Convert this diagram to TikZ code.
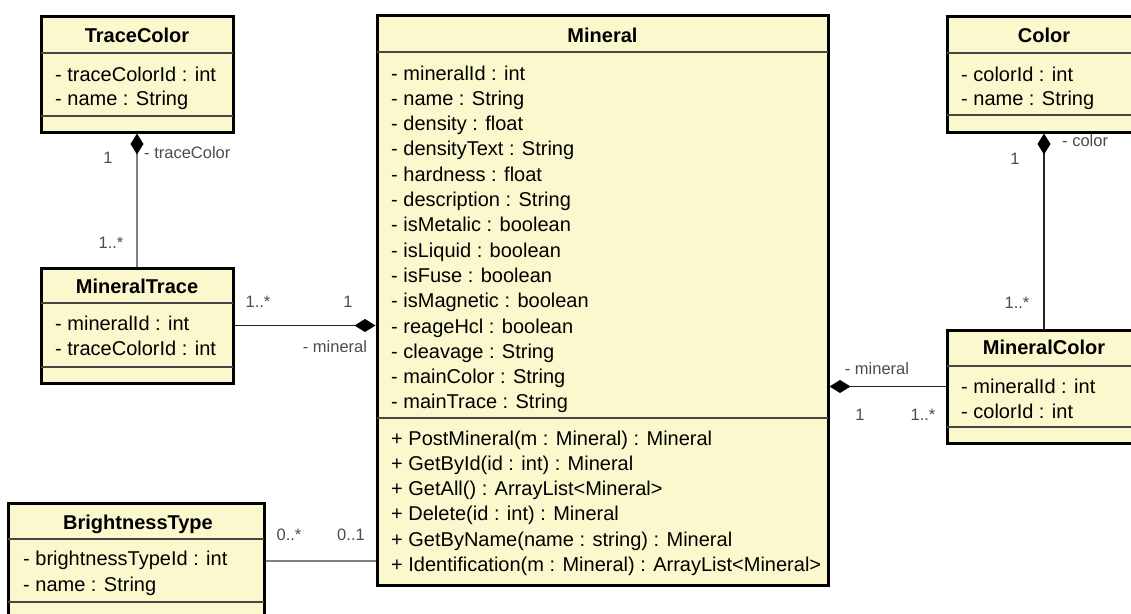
\documentclass[tikz,border=0pt]{standalone}
\usepackage{fontspec}
\setmainfont{Liberation Sans}
\usetikzlibrary{arrows.meta}

\definecolor{classfill}{RGB}{251,248,206}
\definecolor{sepgray}{RGB}{70,70,70}

\tikzset{
  classbox/.style={draw=black, line width=3pt, fill=classfill, inner sep=0pt},
  classtitle/.style={font=\fontsize{20}{24}\selectfont\bfseries, anchor=base, inner sep=0pt},
  member/.style={font=\fontsize{20}{24}\selectfont, anchor=base west, inner sep=0pt},
  sepline/.style={draw=sepgray, line width=1.4pt, shorten <=1.5pt, shorten >=1.5pt},
  assoc/.style={line width=1.8pt, draw=black!85},
  assocgray/.style={line width=1.6pt, draw=black!50},
  lbl/.style={font=\fontsize{16.5}{18}\selectfont, text=black!70, inner sep=0pt},
}

\begin{document}
\begin{tikzpicture}[x=1pt, y=-1pt]
    \clip (0,0) rectangle (1131,613);

    % class boxes
    \node[classbox, minimum width=192pt, minimum height=116pt] (tracecolor) at (137,74) {};
    \node[classbox, minimum width=192pt, minimum height=115pt] (mineraltrace) at (137,325.5) {};
    \node[classbox, minimum width=256pt, minimum height=116pt] (brightness) at (136,561) {};
    \node[classbox, minimum width=451pt, minimum height=570pt] (mineral) at (602.5,300) {};
    \node[classbox, minimum width=194pt, minimum height=116pt] (color) at (1044,74) {};
    \node[classbox, minimum width=194pt, minimum height=113pt] (mineralcolor) at (1044,386.5) {};

    % separators
    \draw[sepline] (tracecolor.west |- 0,53) -- (tracecolor.east |- 0,53);
    \draw[sepline] (tracecolor.west |- 0,116) -- (tracecolor.east |- 0,116);
    \draw[sepline] (mineraltrace.west |- 0,303) -- (mineraltrace.east |- 0,303);
    \draw[sepline] (mineraltrace.west |- 0,367) -- (mineraltrace.east |- 0,367);
    \draw[sepline] (brightness.west |- 0,539) -- (brightness.east |- 0,539);
    \draw[sepline] (brightness.west |- 0,602) -- (brightness.east |- 0,602);
    \draw[sepline] (mineral.west |- 0,52) -- (mineral.east |- 0,52);
    \draw[sepline] (mineral.west |- 0,418) -- (mineral.east |- 0,418);
    \draw[sepline] (color.west |- 0,53) -- (color.east |- 0,53);
    \draw[sepline] (color.west |- 0,115) -- (color.east |- 0,115);
    \draw[sepline] (mineralcolor.west |- 0,366) -- (mineralcolor.east |- 0,366);
    \draw[sepline] (mineralcolor.west |- 0,427) -- (mineralcolor.east |- 0,427);

    % titles
    \node[classtitle] (tracecolor-t) at (137,42) {TraceColor};
    \node[classtitle] (mineraltrace-t) at (137,293) {MineralTrace};
    \node[classtitle] (brightness-t) at (138,529) {BrightnessType};
    \node[classtitle] (mineral-t) at (602.5,42) {Mineral};
    \node[classtitle] (color-t) at (1044,42) {Color};
    \node[classtitle] (mineralcolor-t) at (1044,354) {MineralColor};

    % members
    \foreach \t [count=\i from 0] in {- traceColorId : int, - name : String}
        \node[member] (tracecolor-a\i) at (55,{81+24.5*\i}) {\t};
    \foreach \t [count=\i from 0] in {- mineralId : int, - traceColorId : int}
        \node[member] (mineraltrace-a\i) at (55,{330+25*\i}) {\t};
    \foreach \t [count=\i from 0] in {- brightnessTypeId : int, - name : String}
        \node[member] (brightness-a\i) at (23,{565+26*\i}) {\t};
    \foreach \t [count=\i from 0] in {- colorId : int, - name : String}
        \node[member] (color-a\i) at (961,{81+24.5*\i}) {\t};
    \foreach \t [count=\i from 0] in {- mineralId : int, - colorId : int}
        \node[member] (mineralcolor-a\i) at (961,{393+25*\i}) {\t};
    \foreach \t [count=\i from 0] in {- mineralId : int, - name : String, - density : float,
        - densityText : String, - hardness : float, - description : String,
        - isMetalic : boolean, - isLiquid : boolean, - isFuse : boolean,
        - isMagnetic : boolean, - reageHcl : boolean, - cleavage : String,
        - mainColor : String, - mainTrace : String}
        \node[member] (mineral-a\i) at (391,{80+25.3*\i}) {\t};
    \foreach \t [count=\i from 0] in {+ PostMineral(m : Mineral) : Mineral,
        + GetById(id : int) : Mineral, + GetAll() : ArrayList<Mineral>,
        + Delete(id : int) : Mineral, + GetByName(name : string) : Mineral,
        + Identification(m : Mineral) : ArrayList<Mineral>}
        \node[member] (mineral-m\i) at (391,{445+25.3*\i}) {\t};

    % associations
    \draw[assocgray, {Diamond[length=21pt,width=13pt,color=black]}-] (tracecolor.south) -- (mineraltrace.north);
    \draw[assoc, -{Diamond[length=21pt,width=13pt,color=black]}] (mineraltrace.east) -- (mineraltrace.east -| mineral.west);
    \draw[assocgray] (brightness.east) -- (brightness.east -| mineral.west);
    \draw[assoc, {Diamond[length=21pt,width=13pt,color=black]}-] (color.south) -- (mineralcolor.north);
    \draw[assoc, {Diamond[length=21pt,width=13pt,color=black]}-] (mineralcolor.west -| mineral.east) -- (mineralcolor.west);

    % role names and multiplicities
    \node[lbl] (tc-m1) at (108,158) {1};
    \node[lbl, anchor=west] (tc-role) at (144,153) {- traceColor};
    \node[lbl] (mt-m1) at (111,243) {1..*};
    \node[lbl] (mt-m2) at (258,302) {1..*};
    \node[lbl] (mi-m1) at (348,302) {1};
    \node[lbl] (mi-role1) at (335,347) {- mineral};
    \node[lbl] (bt-m1) at (289,535) {0..*};
    \node[lbl] (mi-m2) at (351,535) {0..1};
    \node[lbl] (co-m1) at (1015,159) {1};
    \node[lbl, anchor=west] (co-role) at (1062,141) {- color};
    \node[lbl] (mc-m1) at (1017,303) {1..*};
    \node[lbl] (mi-role2) at (877,369) {- mineral};
    \node[lbl] (mi-m3) at (860,415) {1};
    \node[lbl] (mc-m2) at (923,415) {1..*};
\end{tikzpicture}
\end{document}
